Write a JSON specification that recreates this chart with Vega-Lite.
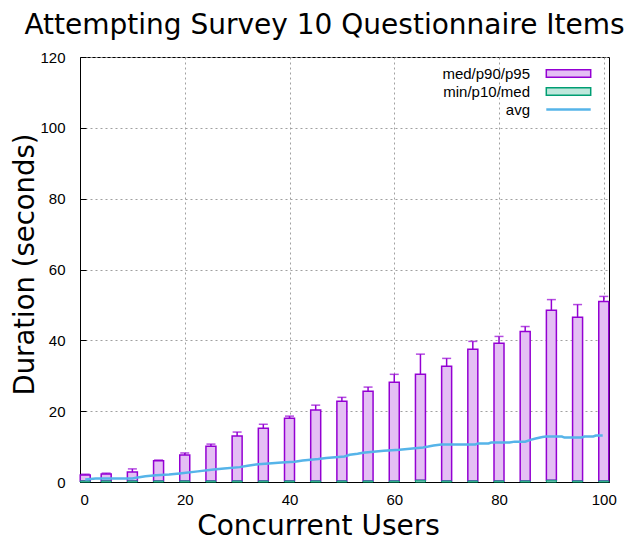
{
  "$schema": "https://vega.github.io/schema/vega-lite/v6.json",
  "autosize": "none",
  "width": 529,
  "height": 425,
  "padding": {"left": 80, "top": 57, "right": 31, "bottom": 58},
  "background": "white",
  "title": {
    "text": "Attempting Survey 10 Questionnaire Items",
    "font": "DejaVu Sans", "fontSize": 28, "fontWeight": "normal", "color": "black",
    "anchor": "middle", "dx": -20, "offset": 10
  },
  "config": {
    "view": {"stroke": "black", "strokeWidth": 1},
    "axis": {
      "domainColor": "black", "domainWidth": 1,
      "tickColor": "black", "tickSize": -6, "tickWidth": 1,
      "gridColor": "#a0a0a0", "gridDash": [2, 3], "gridWidth": 1,
      "labelFont": "Liberation Sans", "labelFontSize": 15, "labelColor": "black",
      "titleColor": "black", "titleFontWeight": "normal"
    }
  },
  "datasets": {
    "bars": [
      {"users": 1, "min": 0, "med": 0.3, "p90": 2.0, "p95": 2.2},
      {"users": 5, "min": 0, "med": 0.3, "p90": 2.25, "p95": 2.5},
      {"users": 10, "min": 0, "med": 0.3, "p90": 2.8, "p95": 3.7},
      {"users": 15, "min": 0, "med": 0.3, "p90": 6.0, "p95": 6.2},
      {"users": 20, "min": 0, "med": 0.3, "p90": 7.6, "p95": 8.2},
      {"users": 25, "min": 0, "med": 0.3, "p90": 10.1, "p95": 10.7},
      {"users": 30, "min": 0, "med": 0.3, "p90": 13.0, "p95": 14.1},
      {"users": 35, "min": 0, "med": 0.3, "p90": 15.2, "p95": 16.3},
      {"users": 40, "min": 0, "med": 0.3, "p90": 18.0, "p95": 18.6},
      {"users": 45, "min": 0, "med": 0.3, "p90": 20.3, "p95": 21.7},
      {"users": 50, "min": 0, "med": 0.3, "p90": 22.8, "p95": 23.9},
      {"users": 55, "min": 0, "med": 0.3, "p90": 25.6, "p95": 26.8},
      {"users": 60, "min": 0, "med": 0.3, "p90": 28.2, "p95": 30.4},
      {"users": 65, "min": 0, "med": 0.5, "p90": 30.4, "p95": 36.1},
      {"users": 70, "min": 0, "med": 0.3, "p90": 32.7, "p95": 34.9},
      {"users": 75, "min": 0, "med": 0.3, "p90": 37.5, "p95": 39.7},
      {"users": 80, "min": 0, "med": 0.3, "p90": 39.2, "p95": 41.1},
      {"users": 85, "min": 0, "med": 0.3, "p90": 42.5, "p95": 43.9},
      {"users": 90, "min": 0, "med": 0.5, "p90": 48.5, "p95": 51.5},
      {"users": 95, "min": 0, "med": 0.3, "p90": 46.5, "p95": 50.1},
      {"users": 100, "min": 0, "med": 0.3, "p90": 51.0, "p95": 52.4}
    ],
    "avg": [
      {"users": 1, "avg": 0.7}, {"users": 3, "avg": 1.0}, {"users": 10, "avg": 1.0},
      {"users": 11, "avg": 1.3}, {"users": 12.5, "avg": 1.6}, {"users": 14.5, "avg": 1.9},
      {"users": 17, "avg": 2.1}, {"users": 19, "avg": 2.4}, {"users": 22.5, "avg": 3.0},
      {"users": 25.5, "avg": 3.5}, {"users": 27.5, "avg": 3.8}, {"users": 30.5, "avg": 4.2},
      {"users": 32, "avg": 4.6}, {"users": 34, "avg": 5.0}, {"users": 36, "avg": 5.2},
      {"users": 38.5, "avg": 5.5}, {"users": 41, "avg": 5.7}, {"users": 42.5, "avg": 6.1},
      {"users": 45.5, "avg": 6.5}, {"users": 47, "avg": 6.8}, {"users": 50.5, "avg": 7.2},
      {"users": 51.5, "avg": 7.7}, {"users": 53, "avg": 8.0}, {"users": 54, "avg": 8.25},
      {"users": 55.5, "avg": 8.5}, {"users": 58, "avg": 8.8}, {"users": 61, "avg": 9.1},
      {"users": 63, "avg": 9.4}, {"users": 65.5, "avg": 9.75}, {"users": 66.5, "avg": 10.0},
      {"users": 67.5, "avg": 10.3}, {"users": 69, "avg": 10.6}, {"users": 75.5, "avg": 10.6},
      {"users": 76, "avg": 10.9}, {"users": 78, "avg": 10.9}, {"users": 78.5, "avg": 11.15},
      {"users": 82, "avg": 11.15}, {"users": 83, "avg": 11.4}, {"users": 85, "avg": 11.4},
      {"users": 86, "avg": 11.9}, {"users": 87, "avg": 12.3}, {"users": 88.3, "avg": 12.7},
      {"users": 89, "avg": 12.85}, {"users": 92, "avg": 12.85}, {"users": 92.5, "avg": 12.55},
      {"users": 95.8, "avg": 12.55}, {"users": 96.3, "avg": 12.85}, {"users": 98, "avg": 12.85},
      {"users": 98.5, "avg": 13.1}, {"users": 99.8, "avg": 13.1}
    ]
  },
  "encoding": {
    "x": {
      "field": "users", "type": "quantitative",
      "scale": {"domain": [0, 101], "nice": false, "zero": false, "padding": 0},
      "axis": {
        "values": [0, 20, 40, 60, 80, 100], "title": "Concurrent Users",
        "titleFont": "DejaVu Sans", "titleFontSize": 28,
        "titleX": 238, "titleY": 52, "titleBaseline": "alphabetic", "titleAnchor": "middle",
        "labelPadding": 16
      }
    }
  },
  "layer": [
    {
      "data": {"name": "bars"},
      "mark": {"type": "bar", "fill": "#e4bff4", "strokeWidth": 1.5, "size": 10},
      "encoding": {
        "y": {
          "field": "med", "type": "quantitative",
          "scale": {"domain": [0, 120], "nice": false, "padding": 0},
          "axis": {
            "values": [0, 20, 40, 60, 80, 100, 120], "title": "Duration (seconds)",
            "titleFont": "DejaVu Sans", "titleFontSize": 27.5,
            "titleX": -47, "titleY": 207, "titleAngle": 270,
            "titleBaseline": "alphabetic", "titleAlign": "center",
            "labelPadding": 21
          }
        },
        "y2": {"field": "p90"},
        "stroke": {
          "datum": "med/p90/p95",
          "scale": {"domain": ["med/p90/p95", "min/p10/med", "avg"], "range": ["#9400d3", "#009e73", "#56b4e9"]},
          "legend": {
            "orient": "none", "legendX": 481, "legendY": 9, "title": null,
            "labelFont": "Liberation Sans", "labelFontSize": 15, "labelColor": "black",
            "labelAlign": "right", "labelOffset": -46,
            "symbolSize": 144, "symbolStrokeWidth": 1.5, "rowPadding": 2, "padding": 0,
            "encoding": {
              "symbols": {
                "shape": {"value": {"expr": "datum.value === 'avg' ? 'M-3.7,0H3.7' : 'M-3.7,-0.62H3.7V0.62H-3.7Z'"}},
                "fill": {"value": {"expr": "datum.value === 'avg' ? 'transparent' : (datum.value === 'min/p10/med' ? '#bfe7dc' : '#e4bff4')"}},
                "strokeWidth": {"value": {"expr": "datum.value === 'avg' ? 2.5 : 1.5"}}
              }
            }
          }
        }
      }
    },
    {
      "data": {"name": "bars"},
      "mark": {"type": "rule", "color": "#9400d3", "strokeWidth": 1.5},
      "encoding": {
        "y": {"field": "p90", "type": "quantitative"},
        "y2": {"field": "p95"}
      }
    },
    {
      "data": {"name": "bars"},
      "mark": {"type": "tick", "orient": "horizontal", "color": "#9400d3", "size": 9, "thickness": 1.5},
      "encoding": {
        "y": {"field": "p95", "type": "quantitative"}
      }
    },
    {
      "data": {"name": "bars"},
      "mark": {"type": "bar", "fill": "#bfe7dc", "strokeWidth": 1, "size": 10},
      "encoding": {
        "y": {"field": "min", "type": "quantitative"},
        "y2": {"field": "med"},
        "stroke": {"datum": "min/p10/med"}
      }
    },
    {
      "data": {"name": "avg"},
      "mark": {"type": "line", "strokeWidth": 2.5},
      "encoding": {
        "y": {"field": "avg", "type": "quantitative"},
        "stroke": {"datum": "avg"}
      }
    }
  ]
}
